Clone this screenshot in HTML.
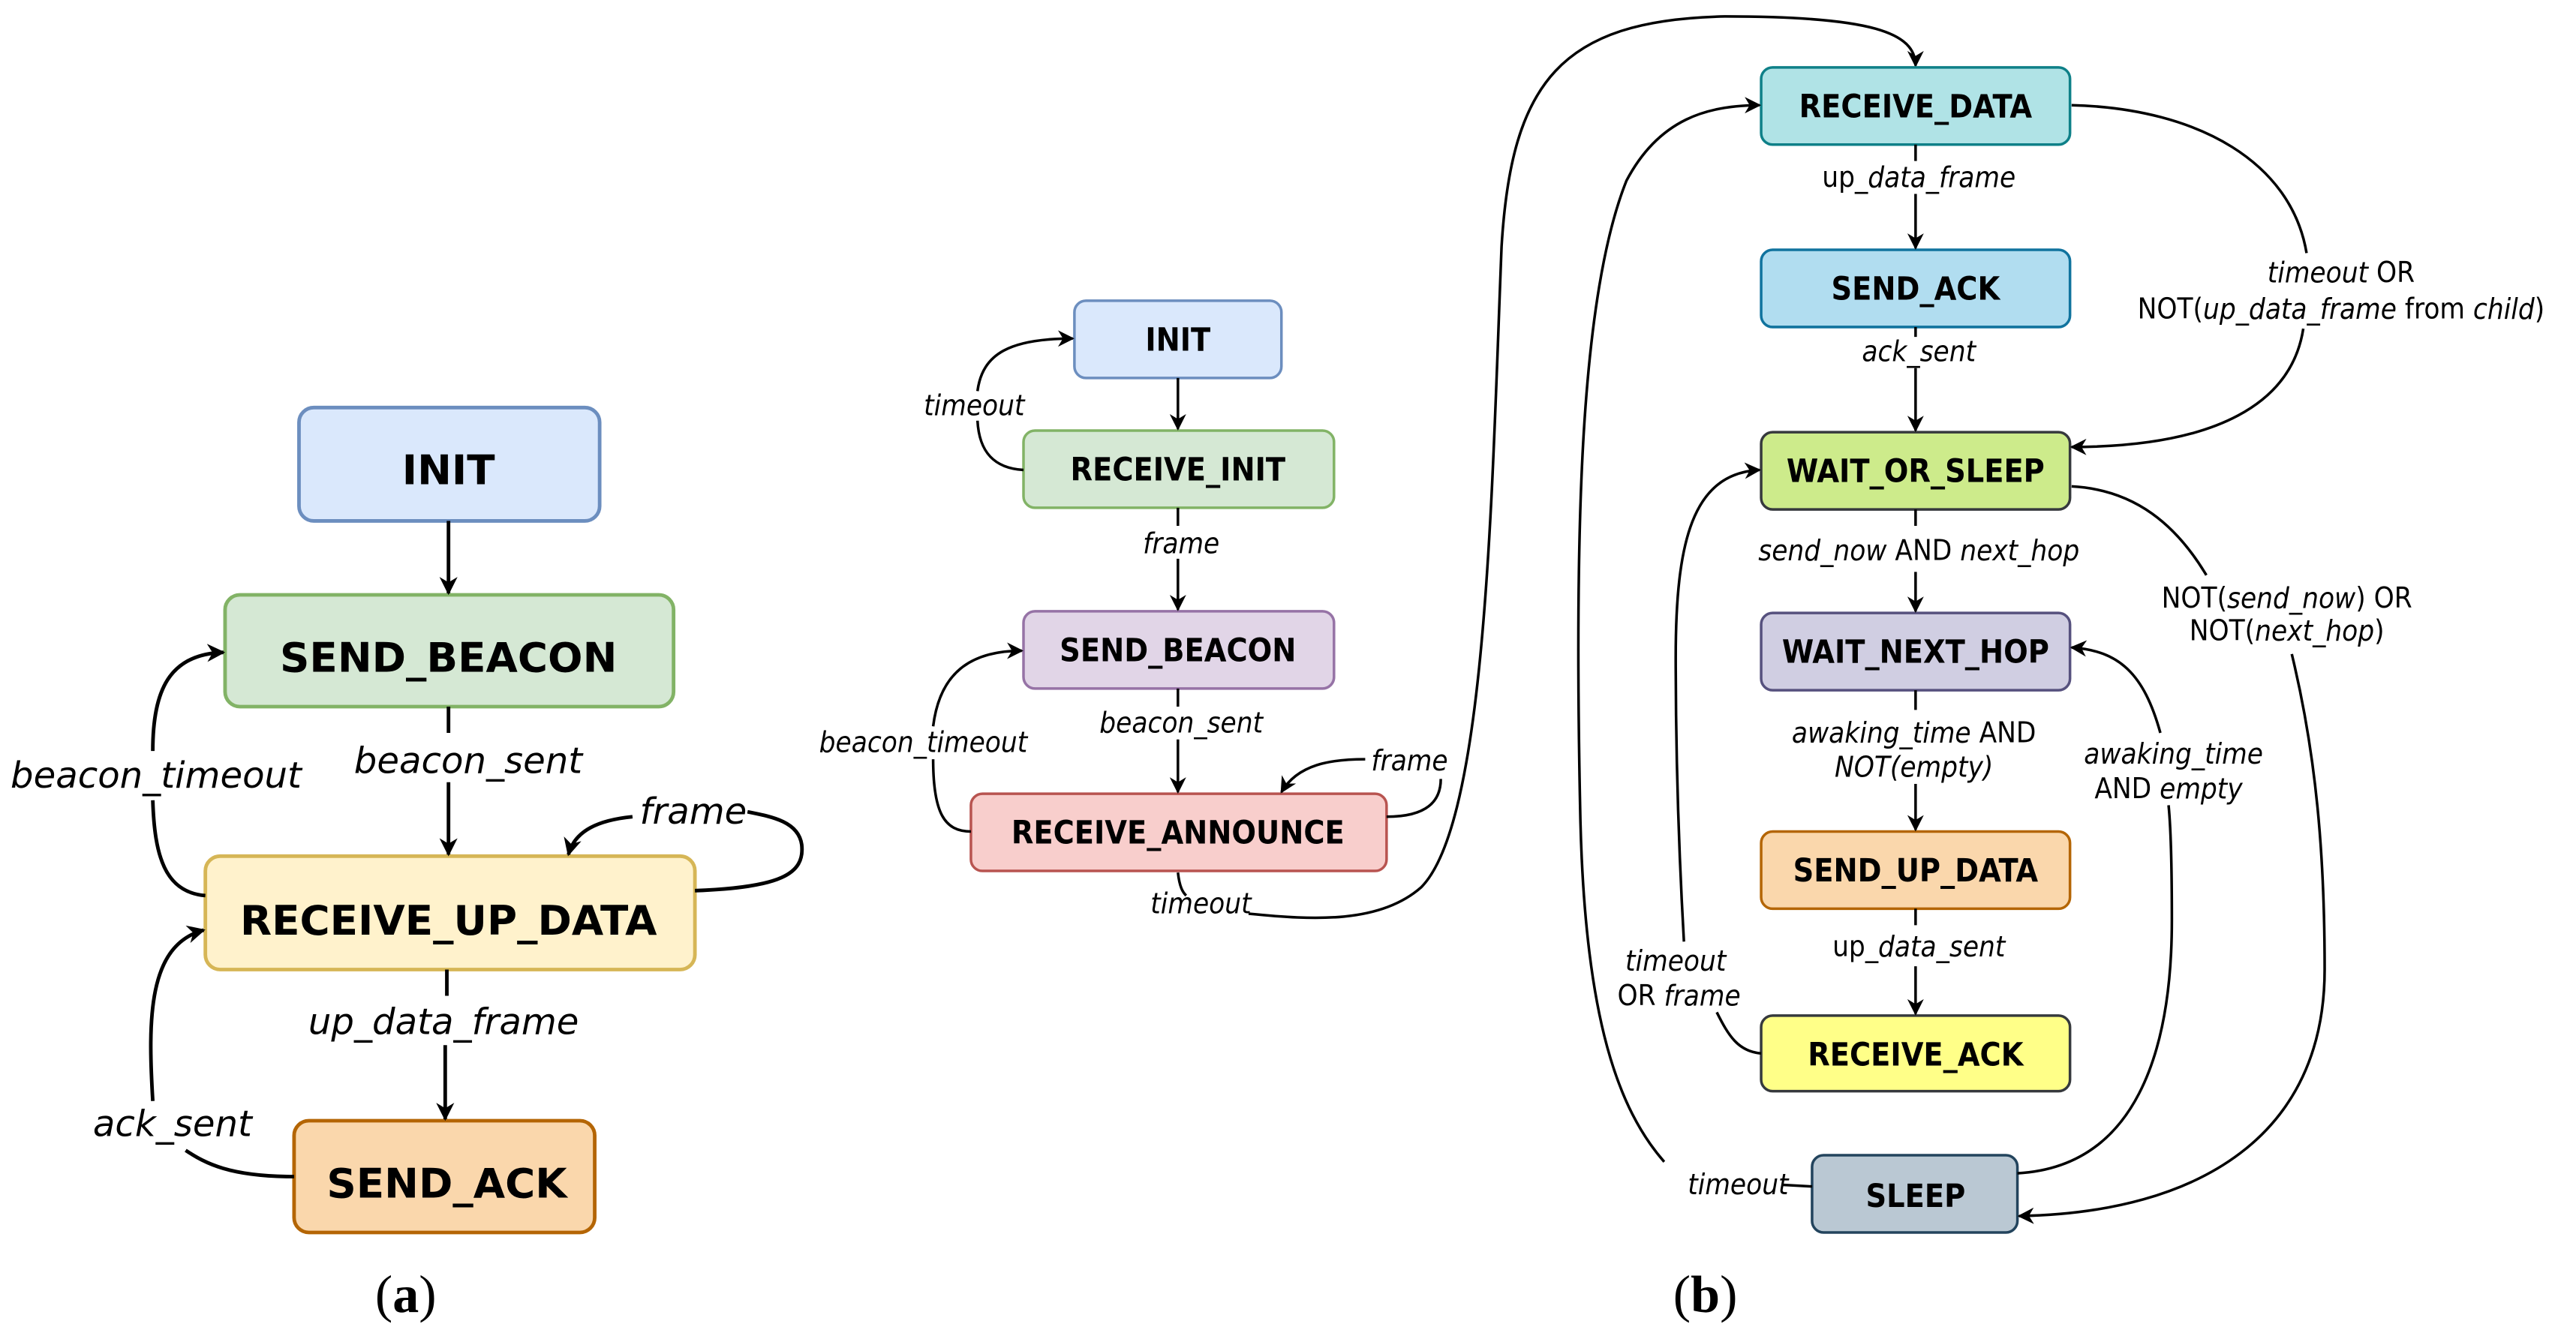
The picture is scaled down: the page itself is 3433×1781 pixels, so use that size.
<!DOCTYPE html>
<html><head><meta charset="utf-8"><style>
html,body{margin:0;padding:0;background:#fff;}
svg{display:block;}
.ba{font-family:"DejaVu Sans","Liberation Sans",sans-serif;font-weight:bold;font-size:25px;text-anchor:middle;dominant-baseline:central;}
.la{font-family:"DejaVu Sans","Liberation Sans",sans-serif;font-style:italic;font-size:22px;text-anchor:middle;dominant-baseline:central;}
.bb{font-family:"DejaVu Sans Condensed","DejaVu Sans",sans-serif;font-weight:bold;font-size:19.5px;text-anchor:middle;dominant-baseline:central;}
.lb{font-family:"DejaVu Sans Condensed","DejaVu Sans",sans-serif;font-size:17.5px;text-anchor:middle;dominant-baseline:central;}
.i{font-style:italic;}
.cap{font-family:"Liberation Serif",serif;font-size:32px;text-anchor:middle;dominant-baseline:central;}
path.e{fill:none;stroke:#000;stroke-width:2.2;}
path.f{fill:none;stroke:#000;stroke-width:1.6;}
</style></head><body>
<svg width="3433" height="1781" viewBox="0 0 1568 813" preserveAspectRatio="none">
<defs>
<marker id="ah" viewBox="0 0 10 10" refX="9" refY="5" markerWidth="10" markerHeight="10" markerUnits="userSpaceOnUse" orient="auto"><path d="M0,0 L10,5 L0,10 L3,5 Z" fill="#000"/></marker>
<marker id="aa" viewBox="0 0 10 10" refX="9" refY="5" markerWidth="11" markerHeight="11" markerUnits="userSpaceOnUse" orient="auto"><path d="M0,0 L10,5 L0,10 L3,5 Z" fill="#000"/></marker>
</defs>

<!-- (a) -->
<g stroke-width="2.2">
<rect x="182" y="248" width="183" height="69" rx="9" fill="#dae8fc" stroke="#6c8ebf"/>
<rect x="137" y="362" width="273" height="68" rx="9" fill="#d5e8d4" stroke="#82b366"/>
<rect x="125" y="521" width="298" height="69" rx="9" fill="#fff2cc" stroke="#d6b656"/>
<rect x="179" y="682" width="183" height="68" rx="9" fill="#fad7ac" stroke="#b46504"/>
</g>
<text class="ba" x="273" y="286">INIT</text>
<text class="ba" x="273" y="400">SEND_BEACON</text>
<text class="ba" x="273" y="560">RECEIVE_UP_DATA</text>
<text class="ba" x="272" y="720">SEND_ACK</text>

<path class="e" d="M273,317 L273,361" marker-end="url(#aa)"/>
<path class="e" d="M273,430 L273,446 M273,476 L273,520" marker-end="url(#aa)"/>
<text class="la" x="285" y="463">beacon_sent</text>
<path class="e" d="M272,590 L272,606 M271,636 L271,681" marker-end="url(#aa)"/>
<text class="la" x="270" y="622">up_data_frame</text>
<path class="e" d="M125,545 C100,543 94,520 93,487 M93,457 C93,420 103,398 136,397" marker-end="url(#aa)"/>
<text class="la" x="95" y="472">beacon_timeout</text>
<path class="e" d="M423,542 C475,540 490,532 488,514 C486,500 470,497 455,494 M385,497 C365,499 350,505 346,520" marker-end="url(#aa)"/>
<text class="la" x="422" y="494">frame</text>
<path class="e" d="M179,716 C140,716 125,708 113,700 M93,670 C90,620 90,575 124,566" marker-end="url(#aa)"/>
<text class="la" x="105" y="684">ack_sent</text>
<text class="cap" x="247" y="788">(<tspan font-weight="bold">a</tspan>)</text>

<!-- (b) left -->
<g stroke-width="1.6">
<rect x="654" y="183" width="126" height="47" rx="7" fill="#dae8fc" stroke="#6c8ebf"/>
<rect x="623" y="262" width="189" height="47" rx="7" fill="#d5e8d4" stroke="#82b366"/>
<rect x="623" y="372" width="189" height="47" rx="7" fill="#e1d5e7" stroke="#9673a6"/>
<rect x="591" y="483" width="253" height="47" rx="7" fill="#f8cecc" stroke="#b85450"/>
</g>
<text class="bb" x="717" y="207">INIT</text>
<text class="bb" x="717" y="286">RECEIVE_INIT</text>
<text class="bb" x="717" y="396">SEND_BEACON</text>
<text class="bb" x="717" y="507">RECEIVE_ANNOUNCE</text>

<path class="f" d="M717,230 L717,261" marker-end="url(#ah)"/>
<path class="f" d="M717,309 L717,320 M717,340 L717,371" marker-end="url(#ah)"/>
<text class="lb i" x="719" y="331">frame</text>
<path class="f" d="M717,419 L717,430 M717,450 L717,482" marker-end="url(#ah)"/>
<text class="lb i" x="719" y="440">beacon_sent</text>
<path class="f" d="M623,286 C605,285 596,275 595,256 M595,238 C598,215 615,206 653,206" marker-end="url(#ah)"/>
<text class="lb i" x="593" y="247">timeout</text>
<path class="f" d="M591,506 C575,506 568,495 568,462 M568,442 C572,410 590,396 622,396" marker-end="url(#ah)"/>
<text class="lb i" x="562" y="452">beacon_timeout</text>
<path class="f" d="M844,497 C868,497 877,488 877,474 M831,462 C810,462 790,465 780,482" marker-end="url(#ah)"/>
<text class="lb i" x="858" y="463">frame</text>
<path class="f" d="M717,531 C718,540 720,543 722,545 M760,556 C800,560 840,562 865,540 C905,500 908,300 914,150 C920,50 950,12 1050,10 C1140,10 1166,20 1166,40" marker-end="url(#ah)"/>
<text class="lb i" x="731" y="550">timeout</text>

<!-- (b) right -->
<g stroke-width="1.6">
<rect x="1072" y="41" width="188" height="47" rx="7" fill="#b0e3e6" stroke="#0e8088"/>
<rect x="1072" y="152" width="188" height="47" rx="7" fill="#b1ddf0" stroke="#10739e"/>
<rect x="1072" y="263" width="188" height="47" rx="7" fill="#cdeb8b" stroke="#36393d"/>
<rect x="1072" y="373" width="188" height="47" rx="7" fill="#d0cee2" stroke="#56517e"/>
<rect x="1072" y="506" width="188" height="47" rx="7" fill="#fad7ac" stroke="#b46504"/>
<rect x="1072" y="618" width="188" height="46" rx="7" fill="#ffff88" stroke="#36393d"/>
<rect x="1103" y="703" width="125" height="47" rx="7" fill="#bac8d3" stroke="#23445d"/>
</g>
<text class="bb" x="1166" y="65">RECEIVE_DATA</text>
<text class="bb" x="1166" y="176">SEND_ACK</text>
<text class="bb" x="1166" y="287">WAIT_OR_SLEEP</text>
<text class="bb" x="1166" y="397">WAIT_NEXT_HOP</text>
<text class="bb" x="1166" y="530">SEND_UP_DATA</text>
<text class="bb" x="1166" y="642">RECEIVE_ACK</text>
<text class="bb" x="1166" y="728">SLEEP</text>

<path class="f" d="M1166,88 L1166,98 M1166,118 L1166,151" marker-end="url(#ah)"/>
<text class="lb" x="1168" y="108">up<tspan class="i">_data_frame</tspan></text>
<path class="f" d="M1166,199 L1166,205 M1166,224 L1166,262" marker-end="url(#ah)"/>
<text class="lb i" x="1168" y="214">ack_sent</text>
<path class="f" d="M1166,310 L1166,320 M1166,348 L1166,372" marker-end="url(#ah)"/>
<text class="lb" x="1168" y="335"><tspan class="i">send_now</tspan> AND <tspan class="i">next_hop</tspan></text>
<path class="f" d="M1166,420 L1166,432 M1166,477 L1166,505" marker-end="url(#ah)"/>
<text class="lb" x="1165" y="446"><tspan class="i">awaking_time</tspan> AND</text>
<text class="lb i" x="1165" y="467">NOT(empty)</text>
<path class="f" d="M1166,553 L1166,563 M1166,588 L1166,617" marker-end="url(#ah)"/>
<text class="lb" x="1168" y="576">up<tspan class="i">_data_sent</tspan></text>

<path class="f" d="M1261,64 C1340,66 1395,100 1404,154 M1402,200 C1395,245 1350,272 1261,272" marker-end="url(#ah)"/>
<text class="lb" x="1425" y="166"><tspan class="i">timeout</tspan> OR</text>
<text class="lb" x="1425" y="188">NOT(<tspan class="i">up_data_frame</tspan> from <tspan class="i">child</tspan>)</text>

<path class="f" d="M1261,296 C1300,298 1325,320 1343,350 M1395,398 C1410,460 1415,520 1415,590 C1415,690 1340,738 1229,740" marker-end="url(#ah)"/>
<text class="lb" x="1392" y="364">NOT(<tspan class="i">send_now</tspan>) OR</text>
<text class="lb" x="1392" y="384">NOT(<tspan class="i">next_hop</tspan>)</text>

<path class="f" d="M1228,714 C1300,710 1322,640 1322,560 C1322,520 1321,500 1320,490 M1315,446 C1305,410 1290,396 1261,394" marker-end="url(#ah)"/>
<text class="lb i" x="1323" y="459">awaking_time</text>
<text class="lb" x="1320" y="480">AND <tspan class="i">empty</tspan></text>

<path class="f" d="M1072,641 C1058,640 1052,630 1045,616 M1025,573 C1022,520 1020,460 1020,400 C1020,330 1030,288 1071,286" marker-end="url(#ah)"/>
<text class="lb i" x="1020" y="585">timeout</text>
<text class="lb" x="1022" y="606">OR <tspan class="i">frame</tspan></text>

<path class="f" d="M1103,722 L1085,721 M1013,707 C985,675 965,620 962,500 C958,320 962,180 990,110 C1010,72 1040,64 1071,64" marker-end="url(#ah)"/>
<text class="lb i" x="1058" y="721">timeout</text>

<text class="cap" x="1038" y="788">(<tspan font-weight="bold">b</tspan>)</text>
</svg>
</body></html>
